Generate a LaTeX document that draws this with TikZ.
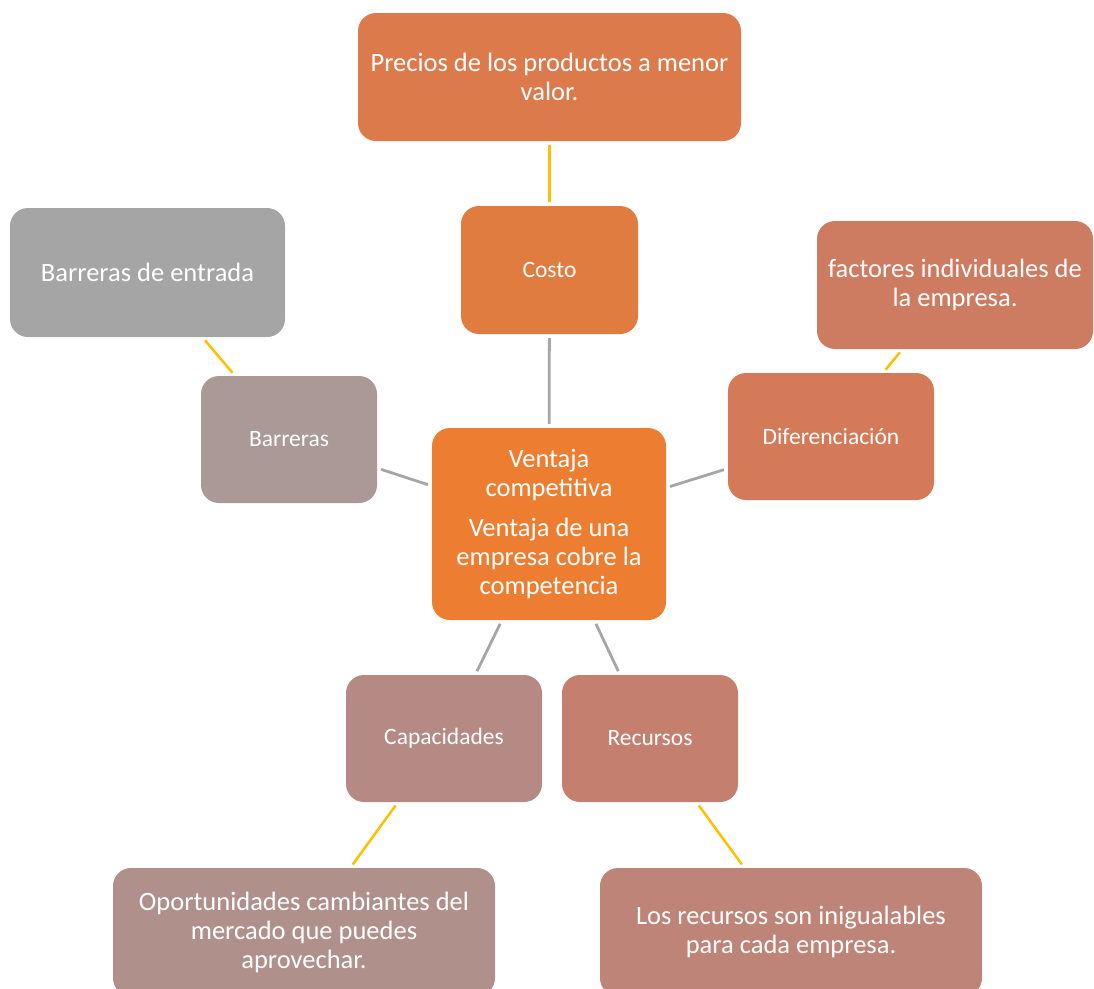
\documentclass[tikz,border=0pt]{standalone}
\usepackage{fontspec}
\setmainfont{Carlito}
\definecolor{cTop}{RGB}{221,122,76}
\definecolor{cCosto}{RGB}{225,124,64}
\definecolor{cCenter}{RGB}{237,125,49}
\definecolor{cBent}{RGB}{165,165,165}
\definecolor{cBar}{RGB}{170,153,151}
\definecolor{cFac}{RGB}{205,124,98}
\definecolor{cDif}{RGB}{213,122,88}
\definecolor{cCap}{RGB}{181,138,132}
\definecolor{cRec}{RGB}{196,127,110}
\definecolor{cOpo}{RGB}{176,144,139}
\definecolor{cLos}{RGB}{190,132,120}
\definecolor{gline}{RGB}{166,166,166}
\definecolor{yline}{RGB}{255,192,0}
\tikzset{
  box/.style={rounded corners=18pt, inner sep=0pt, text=white, align=center},
  bigtxt/.style={font=\fontsize{26.5pt}{29pt}\selectfont},
  smalltxt/.style={font=\fontsize{23.5pt}{28pt}\selectfont},
  greyconn/.style={draw=gline, line width=2.8pt, shorten >=4pt, shorten <=4pt},
  yelconn/.style={draw=yline, line width=2.5pt, shorten >=4pt, shorten <=4pt}
}
\begin{document}
\begin{tikzpicture}[x=1pt,y=-1pt]
\useasboundingbox (0,0) rectangle (1094,988);
\clip (0,0) rectangle (1094,988);
\fill[white] (0,0) rectangle (1094,988);
\node[box,bigtxt,fill=cTop,minimum width=383pt,minimum height=128pt] (top) at (549.5,77) {Precios de los productos a menor\\valor.};
\node[box,smalltxt,fill=cCosto,minimum width=177pt,minimum height=128pt] (costo) at (549.5,270) {Costo};
\node[box,bigtxt,fill=cBent,minimum width=275pt,minimum height=129pt] (bent) at (147.5,272.5) {Barreras de entrada};
\node[box,bigtxt,fill=cFac,minimum width=276pt,minimum height=128pt] (fac) at (955,285) {factores individuales de\\la empresa.};
\node[box,smalltxt,fill=cBar,minimum width=176pt,minimum height=127pt] (bar) at (289,439.5) {Barreras};
\node[box,smalltxt,fill=cDif,minimum width=206pt,minimum height=127pt] (dif) at (831,436.5) {Diferenciación};
\node[box,bigtxt,fill=cCenter,minimum width=234pt,minimum height=192pt] (center) at (549,524) {Ventaja\\competitiva\\[11pt]Ventaja de una\\empresa cobre la\\competencia};
\node[box,smalltxt,fill=cCap,minimum width=196pt,minimum height=127pt] (cap) at (444,738.5) {Capacidades};
\node[box,smalltxt,fill=cRec,minimum width=176pt,minimum height=127pt] (rec) at (650,738.5) {Recursos};
\node[box,bigtxt,fill=cOpo,minimum width=382pt,minimum height=128pt] (opo) at (304,932) {Oportunidades cambiantes del\\mercado que puedes\\aprovechar.};
\node[box,bigtxt,fill=cLos,minimum width=382pt,minimum height=128pt] (los) at (791,932) {Los recursos son inigualables\\para cada empresa.};
\draw[yelconn] (top) -- (costo);
\draw[greyconn] (costo) -- (center);
\draw[yelconn] (bent) -- (bar);
\draw[greyconn] (bar) -- (center);
\draw[yelconn] (fac) -- (dif);
\draw[greyconn] (dif) -- (center);
\draw[greyconn] (cap) -- (center);
\draw[greyconn] (rec) -- (center);
\draw[yelconn] (cap) -- (opo);
\draw[yelconn] (rec) -- (los);
\end{tikzpicture}
\end{document}
